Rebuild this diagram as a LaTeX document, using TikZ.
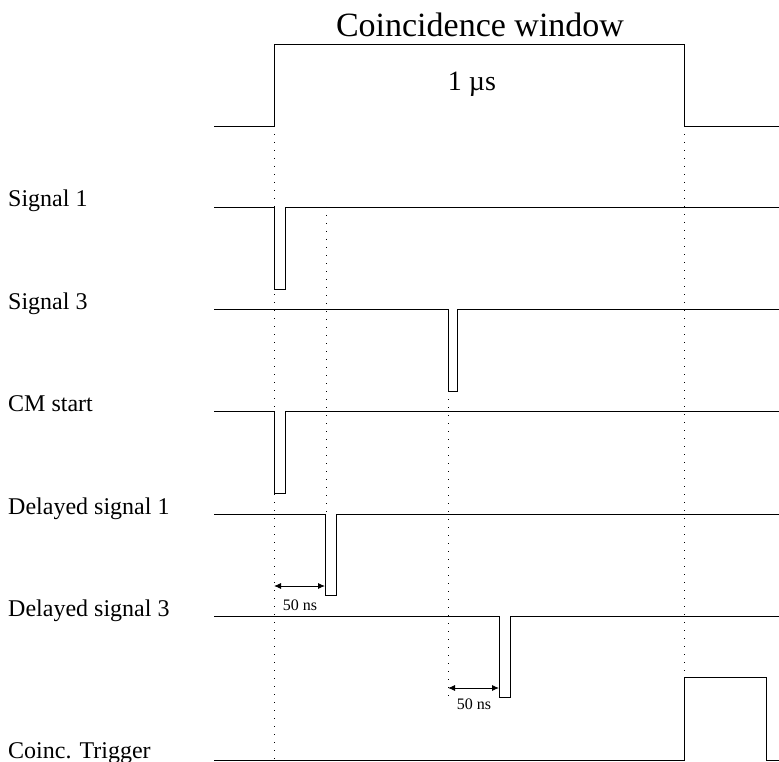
\documentclass[tikz,border=0pt]{standalone}
\usepackage{fontspec}
\setmainfont{Liberation Serif}
\usetikzlibrary{arrows.meta}
\begin{document}
\begin{tikzpicture}[x=1pt,y=-1pt,
  sig/.style={line width=0.9pt,line join=miter},
  guide/.style={line width=0.9pt,dash pattern=on 1pt off 7pt},
  dim/.style={line width=0.9pt,{Latex[length=7pt,width=6pt]}-{Latex[length=7pt,width=6pt]}},
  lbl/.style={anchor=base west,inner sep=0pt,font=\fontsize{24}{27}\selectfont},
  small/.style={inner sep=0pt,font=\fontsize{16}{18}\selectfont}]
\useasboundingbox (0,0) rectangle (779,762);
% coincidence window
\draw[sig] (214,126) -- (274,126) -- (274,44) -- (684,44) -- (684,126) -- (779,126);
\node[inner sep=0pt,font=\fontsize{34}{38}\selectfont] (title) at (480,25) {Coincidence window};
\node[inner sep=0pt,font=\fontsize{28}{31}\selectfont] (width) at (472,84) {1 µs};
% Signal 1
\node[lbl] (l1) at (8,207) {Signal 1};
\draw[sig] (214,207) -- (274,207) -- (274,289) -- (285,289) -- (285,207) -- (779,207);
% Signal 3
\node[lbl] (l3) at (8,309) {Signal 3};
\draw[sig] (214,309) -- (448,309) -- (448,391) -- (457,391) -- (457,309) -- (779,309);
% CM start
\node[lbl] (lcm) at (8,411) {CM start};
\draw[sig] (214,411) -- (274,411) -- (274,493) -- (285,493) -- (285,411) -- (779,411);
% Delayed signal 1
\node[lbl] (ld1) at (8,514) {Delayed signal 1};
\draw[sig] (214,514) -- (325,514) -- (325,595) -- (336,595) -- (336,514) -- (779,514);
% Delayed signal 3
\node[lbl] (ld3) at (8,616) {Delayed signal 3};
\draw[sig] (214,616) -- (499,616) -- (499,697) -- (510,697) -- (510,616) -- (779,616);
% Coinc. Trigger
\node[lbl] (lct) at (8,758) {Coinc. Trigger};
\draw[sig] (214,760) -- (684,760) -- (684,677) -- (766,677) -- (766,760) -- (779,760);
% guides
\coordinate (g1a) at (274,126); \coordinate (g1b) at (274,760);
\coordinate (g2a) at (326,207); \coordinate (g2b) at (326,514);
\coordinate (g3a) at (448,391); \coordinate (g3b) at (448,702);
\coordinate (g4a) at (684,126); \coordinate (g4b) at (684,677);
\draw[guide] (g1a) -- (g1b);
\draw[guide] (g2a) -- (g2b);
\draw[guide] (g3a) -- (g3b);
\draw[guide] (g4a) -- (g4b);
% dimensions
\coordinate (d1a) at (274,586); \coordinate (d1b) at (325,586);
\draw[dim] (d1a) -- (d1b);
\node[small] (n1) at (300,605) {50 ns};
\coordinate (d2a) at (448,688); \coordinate (d2b) at (499,688);
\draw[dim] (d2a) -- (d2b);
\node[small] (n2) at (474,704) {50 ns};
\end{tikzpicture}
\end{document}
